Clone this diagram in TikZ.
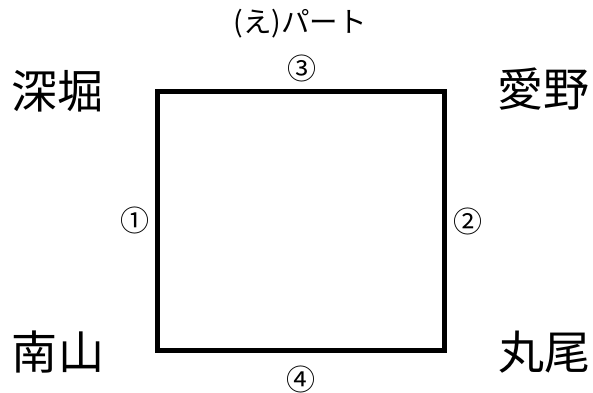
\documentclass[tikz,border=0pt]{standalone}
\usepackage{fontspec}
\newfontfamily\jp{Noto Sans CJK JP}
\begin{document}
\begin{tikzpicture}[x=1pt,y=-1pt,
  corner/.style={font=\jp\fontsize{46}{50}\selectfont, inner sep=0pt},
  num/.style={font=\jp\fontsize{29}{32}\selectfont, inner sep=0pt},
  ttl/.style={font=\jp\fontsize{28.5}{31}\selectfont, inner sep=0pt}]
\useasboundingbox[fill=white] (0,0) rectangle (593,392);
\coordinate (tl) at (157.5,91);
\coordinate (br) at (444,350.5);
\draw[line width=5pt] (tl) rectangle (br);
\node[ttl] (title) at (300,23.5) {(え)パート};
\node[num] (n3) at (301.5,68) {③};
\node[num] (n1) at (134.5,220.5) {①};
\node[num] (n2) at (467.5,221.5) {②};
\node[num] (n4) at (300.5,379) {④};
\node[corner] (fh) at (57,91) {深堀};
\node[corner] (ai) at (543,89) {愛野};
\node[corner] (mi) at (58,352) {南山};
\node[corner] (ma) at (544,352) {丸尾};
\end{tikzpicture}
\end{document}
